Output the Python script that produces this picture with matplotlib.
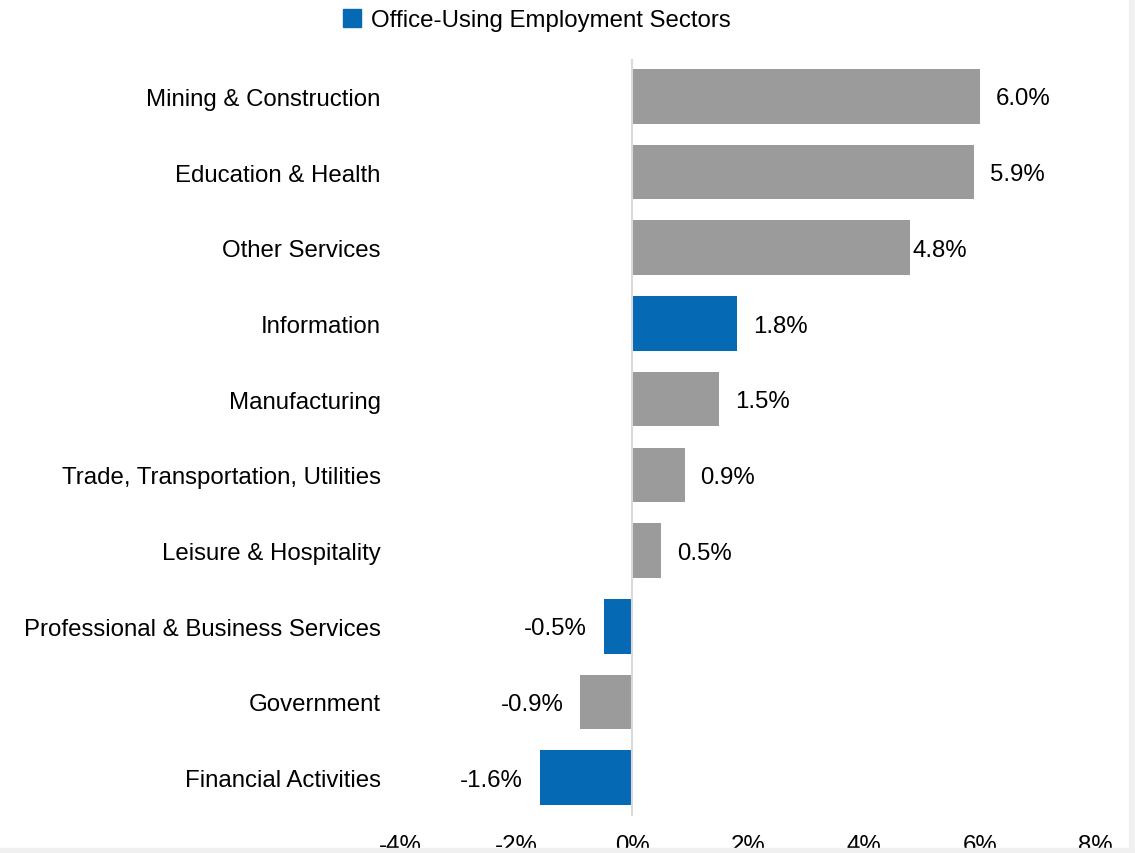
import matplotlib.pyplot as plt
from matplotlib.patches import Rectangle
import numpy as np

plt.rcParams['font.family'] = ['Liberation Sans', 'DejaVu Sans']

sectors = [
    'Mining & Construction', 'Education & Health', 'Other Services', 'Information',
    'Manufacturing', 'Trade, Transportation, Utilities', 'Leisure & Hospitality',
    'Professional & Business Services', 'Government', 'Financial Activities',
]
growth = [6.0, 5.9, 4.8, 1.8, 1.5, 0.9, 0.5, -0.5, -0.9, -1.6]
office_using = [False, False, False, True, False, False, False, True, False, True]
x_ticks = [-4, -2, 0, 2, 4, 6, 8]

BLUE = '#0569B4'
GRAY = '#9B9B9B'
FS = 17.3

fig = plt.figure(figsize=(11.35, 8.54), dpi=100)
ax = fig.add_axes([400.8 / 1135, 37.5 / 854, 695 / 1135, 757 / 854])

y = np.arange(len(sectors))
colors = [BLUE if o else GRAY for o in office_using]
ax.barh(y, growth, height=0.72, color=colors, zorder=2)

for i, (yi, v) in enumerate(zip(y, growth)):
    if v >= 0:
        # the "Other Services" label sits right against its bar in the original
        off = 1.5 if i == 2 else 11.5
    else:
        off = -12.2
    ax.annotate(f'{v:.1f}%', (v, yi), xytext=(off, -1.5), textcoords='offset points',
                ha='left' if v >= 0 else 'right', va='center', fontsize=FS)

ax.axvline(0, color='#D9D9D9', lw=1.5, zorder=3)
ax.set_xlim(-4, 8)
ax.set_ylim(len(sectors) - 0.5, -0.5)
ax.set_yticks(y)
ax.set_yticklabels(sectors, fontsize=FS)
ax.set_xticks(x_ticks)
ax.set_xticklabels([f'{t}%' for t in x_ticks], fontsize=FS)
ax.tick_params(axis='y', length=0, pad=14.4)
ax.tick_params(axis='x', length=0, pad=13)
for s in ax.spines.values():
    s.set_visible(False)

# legend
fig.add_artist(Rectangle((343 / 1135, 1 - 28 / 854), 18 / 1135, 18 / 854,
                         transform=fig.transFigure, color=BLUE))
fig.text(371 / 1135, 1 - 21.5 / 854, 'Office-Using Employment Sectors',
         fontsize=FS, va='center', ha='left')

# light frame strips at the right and bottom edges
fig.add_artist(Rectangle((1129 / 1135, 0), 6 / 1135, 1, transform=fig.transFigure,
                         color='#F0F0F0', zorder=10))
fig.add_artist(Rectangle((0, 0), 1, 5 / 854, transform=fig.transFigure,
                         color='#F0F0F0', zorder=10))

fig.savefig('out.png', dpi=100)
